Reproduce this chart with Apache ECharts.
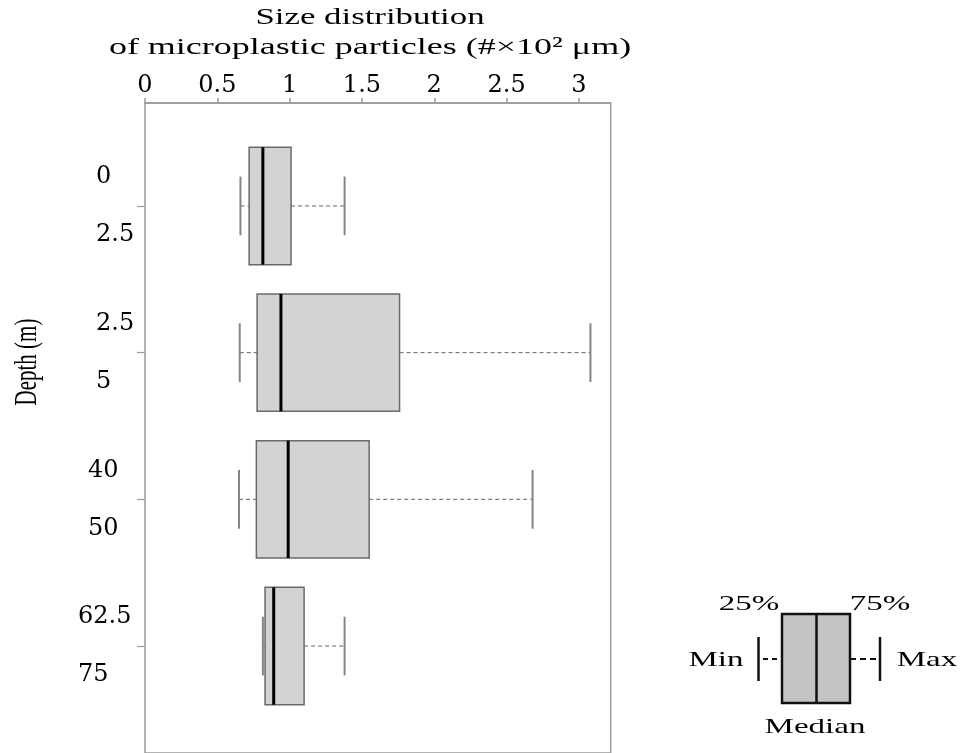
<!DOCTYPE html>
<html><head><meta charset="utf-8">
<script src="https://cdn.jsdelivr.net/npm/echarts@6/dist/echarts.min.js"></script>
<style>html,body{margin:0;padding:0;background:#fff}#c{width:961px;height:753px}</style>
</head><body><div id="c"></div>
<script>
// ---- data (size, ×10² µm) ----
const depthLabels = ['0\n2.5', '2.5\n5', '40\n50', '62.5\n75'];
const minVals    = [0.66, 0.655, 0.65, 0.815];
const q1Vals     = [0.72, 0.775, 0.77, 0.83];
const medianVals = [0.815, 0.94, 0.99, 0.89];
const q3Vals     = [1.01, 1.76, 1.55, 1.10];
const maxVals    = [1.38, 3.08, 2.68, 1.38];
const xTickLabels = ['0', '0.5', '1', '1.5', '2', '2.5', '3'];
const xMin = 0, xMax = 3.22, xStep = 0.5;

const boxData = depthLabels.map((d, i) => [i, minVals[i], q1Vals[i], medianVals[i], q3Vals[i], maxVals[i]]);

const serif = '"Liberation Serif", "Times New Roman", serif';
const axisFont = '"DejaVu Serif", serif';

const chart = echarts.init(document.getElementById('c'), null, {renderer: 'canvas'});
const G = '#9a9a9a';
const richStyle = w => ({width: w, align: 'left', lineHeight: 58, fontFamily: axisFont, fontSize: 24, color: '#000'});

chart.setOption({
  backgroundColor: '#fff',
  animation: false,
  grid: [
    {left: 145, right: 350.3, top: 132.6, bottom: 33.6, show: false},
    {left: 145, right: 350.3, top: 103, height: 700, show: true, borderColor: G, borderWidth: 1.5, backgroundColor: 'transparent'}
  ],
  xAxis: [
    {
      type: 'value', gridIndex: 0, position: 'top', offset: 29.6,
      min: xMin, max: xMax, interval: xStep,
      splitLine: {show: false},
      axisLine: {show: true, lineStyle: {color: G, width: 1.5}},
      axisTick: {show: true, length: 5, lineStyle: {color: G, width: 1.5}},
      axisLabel: {
        margin: 5, fontFamily: axisFont, fontSize: 24, color: '#000',
        showMaxLabel: false,
        formatter: v => { const i = Math.round(v / xStep); return xTickLabels[i] !== undefined ? xTickLabels[i] : ''; }
      }
    },
    {type: 'value', gridIndex: 1, show: false, min: 0, max: 1}
  ],
  yAxis: [
    {
      type: 'category', gridIndex: 0, data: depthLabels, inverse: true,
      axisLine: {show: false},
      axisTick: {show: true, alignWithLabel: true, length: 8, lineStyle: {color: G, width: 1.2}},
      splitLine: {show: false},
      axisLabel: {
        align: 'right', margin: 7, color: '#000', fontFamily: axisFont, fontSize: 24,
        formatter: (v, idx) => v.split('\n').map(s => '{g' + idx + '|' + s + '}').join('\n'),
        rich: {g0: richStyle(42), g1: richStyle(42), g2: richStyle(50), g3: richStyle(60)}
      }
    },
    {type: 'value', gridIndex: 1, show: false, min: 0, max: 1}
  ],
  series: [{
    type: 'custom',
    xAxisIndex: 0, yAxisIndex: 0,
    encode: {x: [1, 2, 3, 4, 5], y: 0},
    data: boxData,
    renderItem: function (params, api) {
      const c = api.value(0);
      const pMin = api.coord([api.value(1), c]);
      const pQ1 = api.coord([api.value(2), c]);
      const pMed = api.coord([api.value(3), c]);
      const pQ3 = api.coord([api.value(4), c]);
      const pMax = api.coord([api.value(5), c]);
      const band = api.size([0, 1])[1];
      const h = band * 0.8, capH = band * 0.4;
      const y = pQ1[1];
      return {
        type: 'group',
        children: [
          {type: 'line', shape: {x1: pMin[0], y1: y, x2: pQ1[0], y2: y},
           style: {stroke: '#666', lineWidth: 1, lineDash: [4, 3]}},
          {type: 'line', shape: {x1: pQ3[0], y1: y, x2: pMax[0], y2: y},
           style: {stroke: '#666', lineWidth: 1, lineDash: [4, 3]}},
          {type: 'line', shape: {x1: pMin[0], y1: y - capH / 2, x2: pMin[0], y2: y + capH / 2},
           style: {stroke: '#858585', lineWidth: 2}},
          {type: 'line', shape: {x1: pMax[0], y1: y - capH / 2, x2: pMax[0], y2: y + capH / 2},
           style: {stroke: '#858585', lineWidth: 2}},
          {type: 'rect', shape: {x: pQ1[0], y: y - h / 2, width: pQ3[0] - pQ1[0], height: h},
           style: {fill: '#d3d3d3', stroke: '#6a6a6a', lineWidth: 1.5}},
          {type: 'line', shape: {x1: pMed[0], y1: y - h / 2, x2: pMed[0], y2: y + h / 2},
           style: {stroke: '#000', lineWidth: 3}}
        ]
      };
    }
  }],
  graphic: [
    {type: 'text', x: 370, y: 18, scaleX: 1.45,
     style: {text: 'Size distribution', font: '24px ' + serif, fill: '#000', align: 'center', verticalAlign: 'middle'}},
    {type: 'text', x: 370, y: 48, scaleX: 1.5,
     style: {text: 'of microplastic particles (#×10² μm)', font: '24px ' + serif, fill: '#000', align: 'center', verticalAlign: 'middle'}},
    {type: 'text', x: 28, y: 362, rotation: Math.PI / 2, scaleY: 1.5,
     style: {text: 'Depth (m)', font: '21px ' + serif, fill: '#000', align: 'center', verticalAlign: 'middle'}},
    // key
    {type: 'line', shape: {x1: 763, y1: 659, x2: 781, y2: 659}, style: {stroke: '#111', lineWidth: 2, lineDash: [5, 4]}},
    {type: 'line', shape: {x1: 850, y1: 659, x2: 880, y2: 659}, style: {stroke: '#111', lineWidth: 2, lineDash: [6, 4]}},
    {type: 'line', shape: {x1: 758.5, y1: 637, x2: 758.5, y2: 681}, style: {stroke: '#111', lineWidth: 2.5}},
    {type: 'line', shape: {x1: 880, y1: 637, x2: 880, y2: 681}, style: {stroke: '#111', lineWidth: 2.5}},
    {type: 'rect', shape: {x: 782, y: 614, width: 68, height: 89}, style: {fill: '#c4c4c4', stroke: '#111', lineWidth: 2.5}},
    {type: 'line', shape: {x1: 816.5, y1: 614, x2: 816.5, y2: 703}, style: {stroke: '#111', lineWidth: 2.5}},
    {type: 'text', x: 716, y: 660, scaleX: 1.5, style: {text: 'Min', font: '22px ' + serif, fill: '#000', align: 'center', verticalAlign: 'middle'}},
    {type: 'text', x: 927, y: 660, scaleX: 1.5, style: {text: 'Max', font: '22px ' + serif, fill: '#000', align: 'center', verticalAlign: 'middle'}},
    {type: 'text', x: 749, y: 604, scaleX: 1.5, style: {text: '25%', font: '22px ' + serif, fill: '#000', align: 'center', verticalAlign: 'middle'}},
    {type: 'text', x: 880, y: 604, scaleX: 1.5, style: {text: '75%', font: '22px ' + serif, fill: '#000', align: 'center', verticalAlign: 'middle'}},
    {type: 'text', x: 815, y: 727, scaleX: 1.5, style: {text: 'Median', font: '22px ' + serif, fill: '#000', align: 'center', verticalAlign: 'middle'}}
  ]
});
</script>
</body></html>
